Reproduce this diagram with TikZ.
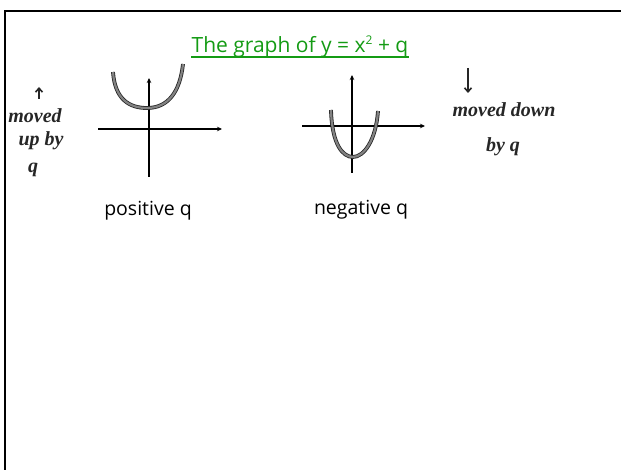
\documentclass[tikz,border=0pt]{standalone}
\usepackage{fontspec}
\setmainfont{Open Sans}
\newfontfamily\handfont{Liberation Serif}
\usetikzlibrary{arrows.meta, positioning, calc}
\definecolor{cTitle}{RGB}{20,155,20}
\definecolor{cPen}{RGB}{130,130,130}
\tikzset{
  frameline/.style={line width=2.5pt, black},
  axisline/.style={->, >={Stealth[length=5pt,width=4.5pt]}, line width=1.3pt, black},
  curveline/.style={draw=black!85, line width=0.8pt, double=cPen,
                    double distance=2.2pt},
  penarrow/.style={->, >={Straight Barb[length=4pt,width=7pt]},
                   line width=1.6pt, black!85},
  labeltext/.style={inner sep=0pt, font=\fontsize{19.5}{23}\selectfont},
  handtext/.style={inner sep=0pt, align=center, text=black!85,
                   font=\handfont\bfseries\itshape\fontsize{20}{22}\selectfont},
  titletext/.style={inner sep=0pt, text=cTitle,
                    font=\fontsize{21}{25}\selectfont}
}
\newcommand{\smallsq}{\raisebox{0.42em}{\fontsize{12}{12}\selectfont 2}}

\begin{document}
\begin{tikzpicture}[x=1pt, y=-1pt]

  \useasboundingbox (0,0) rectangle (621,470);

  % frame (top and left edge only)
  \draw[frameline] (5,470) -- (5,11) -- (621,11);

  % title
  \node[titletext, anchor=base] (title) at (300,53)
      {The graph of y = x\smallsq{} + q};
  \draw[cTitle, line width=1.1pt]
      ([yshift=-4pt]title.base west) -- ([yshift=-4pt]title.base east);

  % positive q
  \coordinate (pos_x0) at (98,129);
  \coordinate (pos_x1) at (222,129);
  \coordinate (pos_y0) at (149,177);
  \coordinate (pos_y1) at (149,78);
  \draw[axisline] (pos_x0) -- (pos_x1);
  \draw[axisline] (pos_y0) -- (pos_y1);
  \draw[curveline] (113,72) .. controls (115,100) and (130,108) .. (147,108)
                            .. controls (168,108) and (180,92) .. (183,64);
  \node[labeltext, anchor=base] (pos_lbl) at (148,216) {positive q};

  % negative q
  \coordinate (neg_x0) at (302,126);
  \coordinate (neg_x1) at (425,126);
  \coordinate (neg_y0) at (352,173);
  \coordinate (neg_y1) at (352,75);
  \draw[axisline] (neg_x0) -- (neg_x1);
  \draw[axisline] (neg_y0) -- (neg_y1);
  \draw[curveline] (331,110) .. controls (332,145) and (343,157) .. (353,157)
                            .. controls (364,157) and (376,140) .. (378,111);
  \node[labeltext, anchor=base] (neg_lbl) at (361,215) {negative q};

  % hand notes, left
  \coordinate (up_a0) at (39,99);
  \coordinate (up_a1) at (39,87);
  \draw[penarrow] (up_a0) -- (up_a1);
  \node[handtext] (up_moved) at (35,116) {moved};
  \node[handtext] (up_by) at (41,141) {up by};
  \node[handtext] (up_q) at (33,170) {q};

  % hand notes, right
  \coordinate (dn_a0) at (468,68);
  \coordinate (dn_a1) at (468,93);
  \draw[penarrow] (dn_a0) -- (dn_a1);
  \node[handtext] (dn_moved) at (504,110) {moved down};
  \node[handtext] (dn_by) at (503,147) {by q};

\end{tikzpicture}
\end{document}
